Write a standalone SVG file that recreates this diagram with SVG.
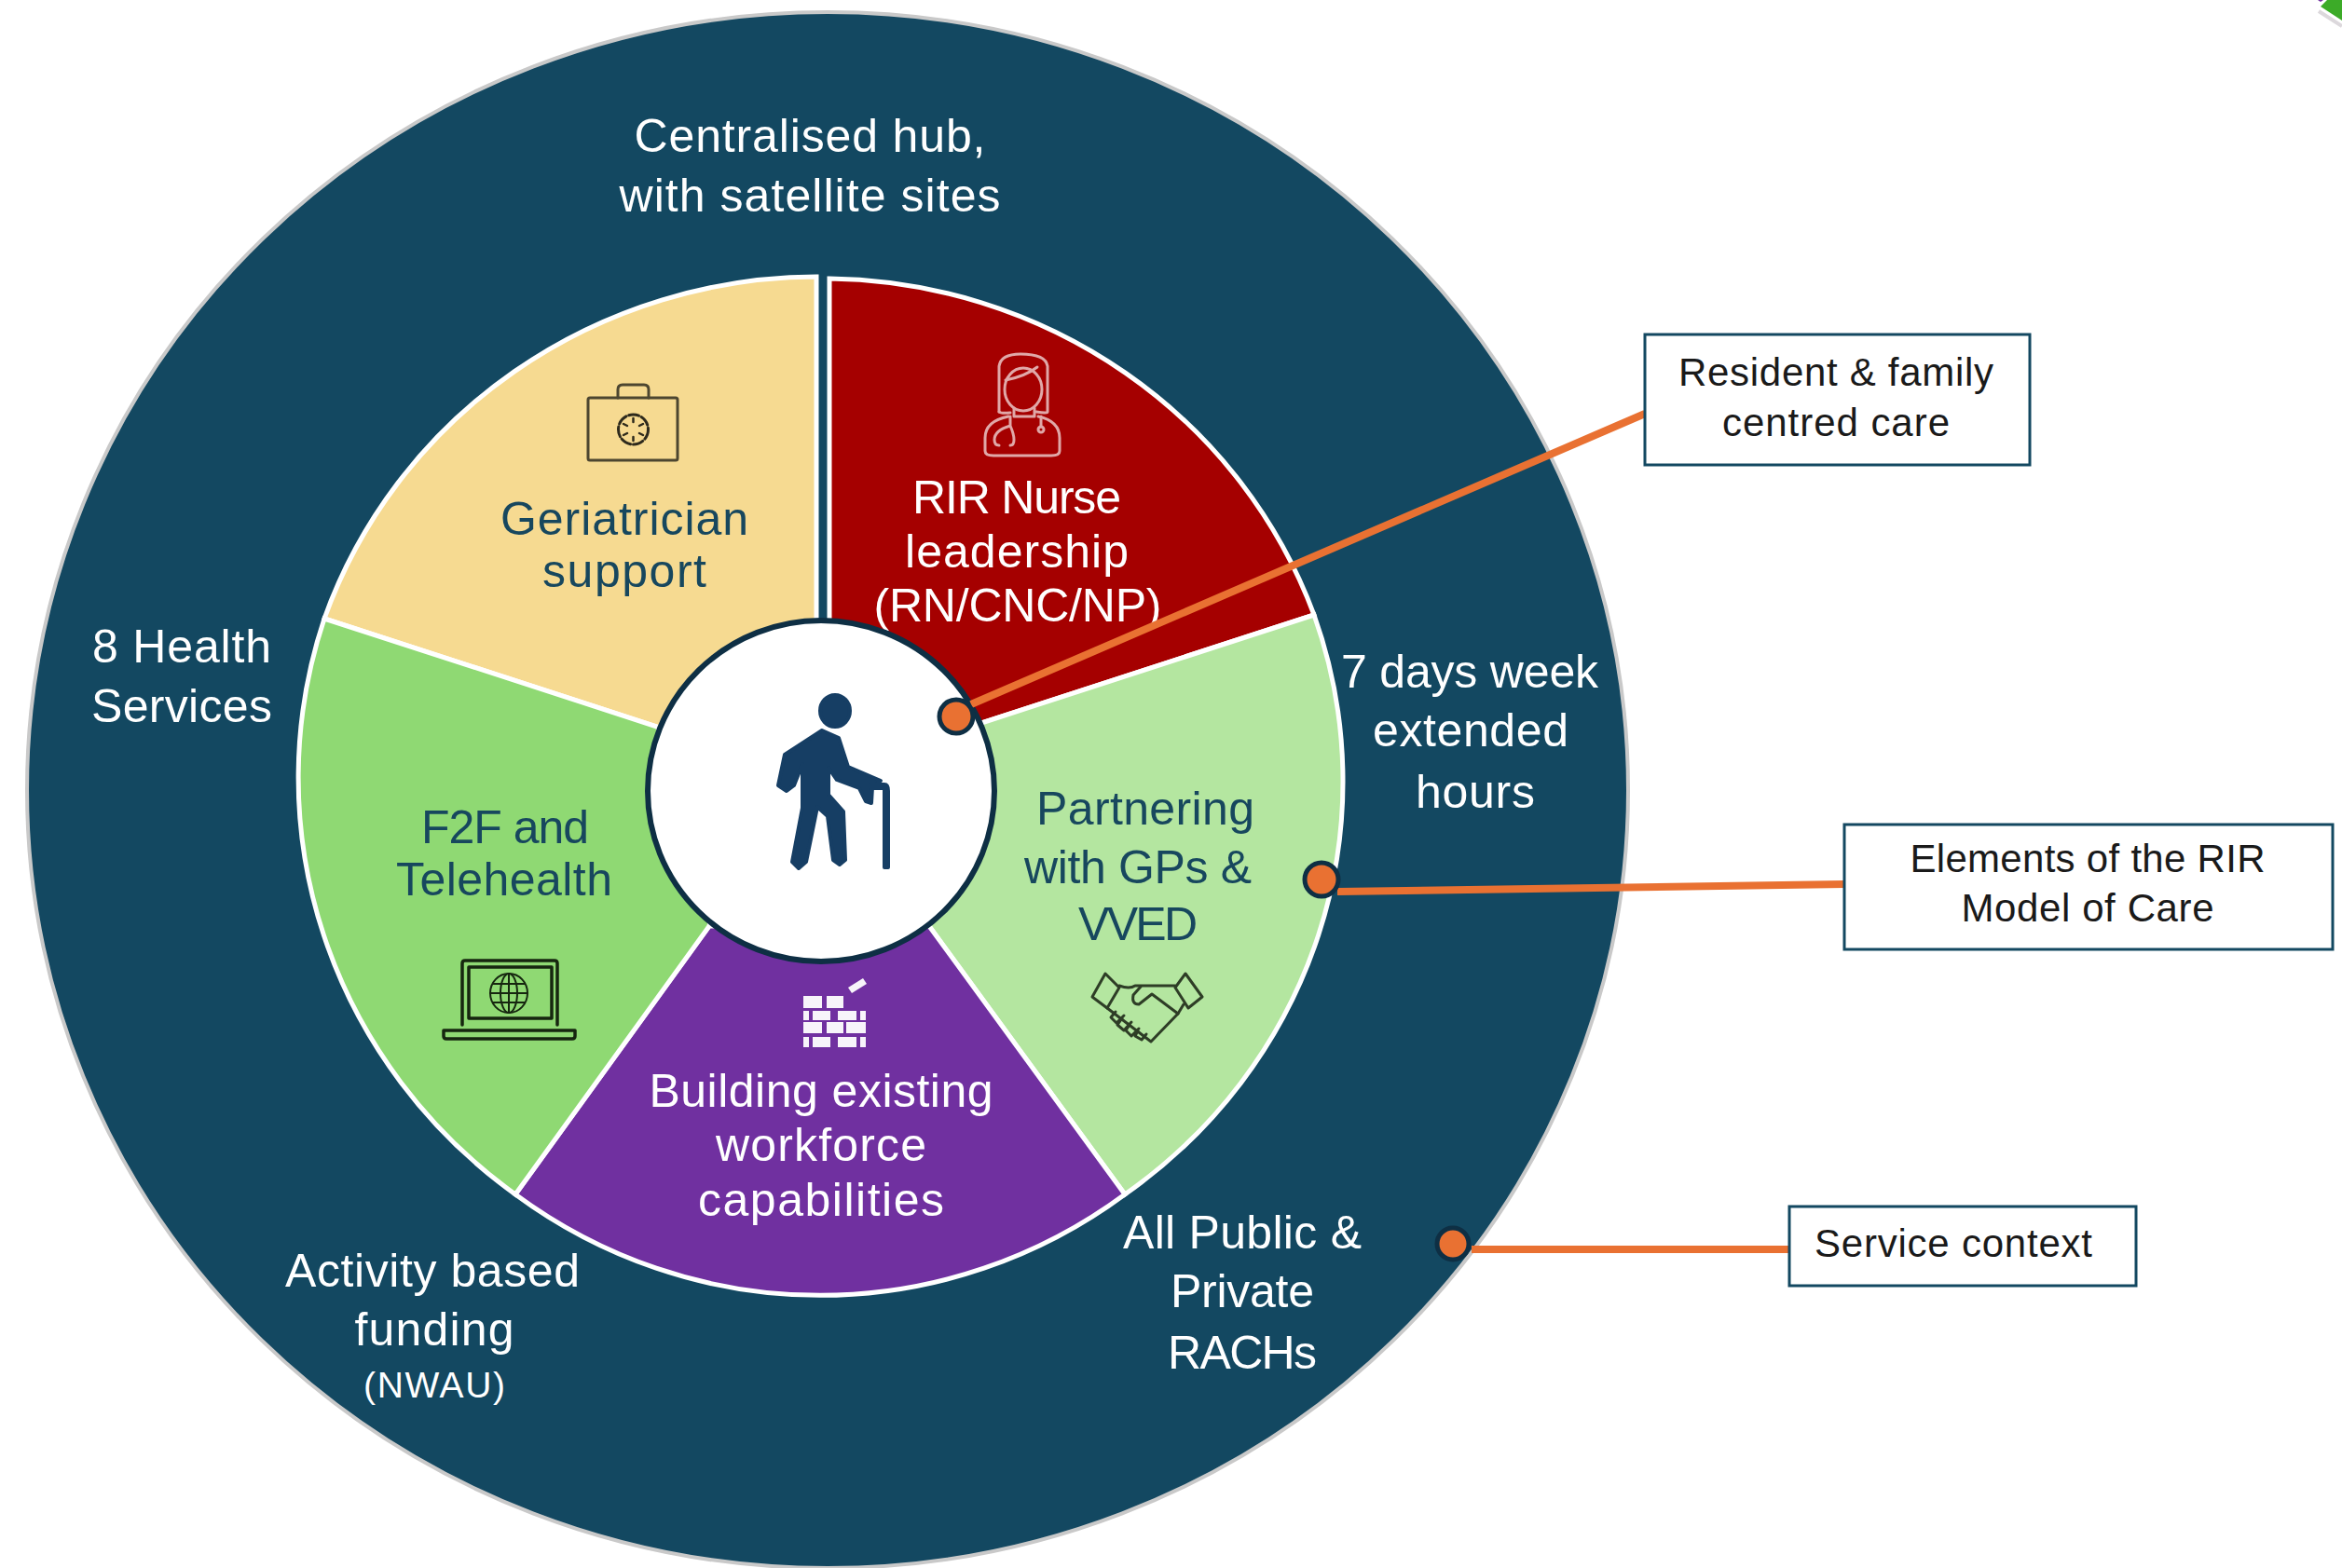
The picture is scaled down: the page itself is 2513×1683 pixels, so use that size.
<svg xmlns="http://www.w3.org/2000/svg" width="2513" height="1683" viewBox="0 0 2513 1683">
<style>
text{font-family:"Liberation Sans",Arial,sans-serif;font-size:50px;text-anchor:middle}
.w{fill:#fff}.d{fill:#17475e}.c{font-size:42px;fill:#1a1a1a}
.wedge{stroke:#fff;stroke-width:5;stroke-linejoin:miter}
.ic{fill:none;stroke-linejoin:round;stroke-linecap:round}
.conn{stroke:#e97132;stroke-width:8;fill:none}
.dot{fill:#e97132;stroke:#0e2f44;stroke-width:5}
.box{fill:#fff;stroke:#134861;stroke-width:3}
</style>
<rect width="2513" height="1683" fill="#fff"/>
<g id="service-context">
<ellipse cx="888" cy="848" rx="859" ry="835" fill="#134861" stroke="#c9c9c9" stroke-width="4"/>
<text class="w" x="869" y="163" textLength="377">Centralised hub,</text>
<text class="w" x="869" y="227" textLength="409">with satellite sites</text>
<text class="w" x="195" y="711" textLength="192">8 Health</text>
<text class="w" x="195" y="775" textLength="194">Services</text>
<text class="w" x="1577" y="738" textLength="276">7 days week</text>
<text class="w" x="1578" y="801" textLength="210">extended</text>
<text class="w" x="1583" y="867" textLength="128">hours</text>
<text class="w" x="1333" y="1340" textLength="256">All Public &amp;</text>
<text class="w" x="1333" y="1403" textLength="154">Private</text>
<text class="w" x="1333" y="1469" textLength="160">RACHs</text>
<text class="w" x="464" y="1381" textLength="316">Activity based</text>
<text class="w" x="466" y="1444" textLength="171">funding</text>
<text class="w" x="466" y="1500" textLength="152" style="font-size:39px">(NWAU)</text>
</g>
<g id="geriatrician">
<path class="wedge" fill="#f6da91" d="M876,840 L876,297 A561,547 0 0 0 348,664 L705,780 Z"/>
<g class="ic" stroke="#4d4630" stroke-width="3">
<rect x="631" y="427" width="96" height="67" rx="2"/>
<path d="M663,427 V418 Q663,413 668,413 H691 Q696,413 696,418 V427"/>
<circle cx="679.5" cy="461" r="16" stroke-dasharray="11 3" stroke="#2e2a1c"/>
<path d="M679.5,449 V453 M679.5,469 V473 M669,455 L673,457 M690,455 L686,457 M669,467 L673,465 M690,467 L686,465" stroke="#2e2a1c" stroke-width="2.5"/>
</g>
<text class="d" x="670" y="574" textLength="266">Geriatrician</text>
<text class="d" x="670" y="630" textLength="176">support</text>
</g>
<g id="nurse">
<path class="wedge" fill="#a50000" d="M890,800 L890,299 A561,547 0 0 1 1410,660 L1050,777 Z"/>
<g class="ic" stroke="#e0a8a8" stroke-width="3">
<path d="M1072,442 V393 Q1074,380 1095,380 Q1122,380 1124,393 V442 Q1124,444 1112,442"/>
<path d="M1072,442 Q1074,444 1084,443"/>
<ellipse cx="1098" cy="418" rx="20" ry="23"/>
<path d="M1079,408 Q1100,404 1113,394"/>
<path d="M1088,438 V447 H1110 V438"/>
<path d="M1082,447 Q1057,452 1057,470 V484 Q1057,489 1066,489 H1128 Q1137,489 1137,484 V470 Q1137,452 1114,447"/>
<path d="M1084,447 V457 Q1067,462 1067,472 Q1067,478 1072,478 M1084,457 Q1088,466 1088,472 Q1088,478 1084,478"/>
<path d="M1117,447 V458"/><circle cx="1117" cy="461" r="3"/>
</g>
<text class="w" x="1091" y="551" textLength="224">RIR Nurse</text>
<text class="w" x="1091" y="609" textLength="240">leadership</text>
<text class="w" x="1092" y="667" textLength="309">(RN/CNC/NP)</text>
</g>
<g id="partnering">
<path class="wedge" fill="#b4e6a0" d="M900,850 L1050,777 L1410,660 A565,547 0 0 1 1207,1282 L997,994 Z"/>
<g class="ic" stroke="#2e3d26" stroke-width="3">
<path d="M1186,1045 L1201,1060 L1188,1082 L1172,1070 Z"/>
<path d="M1272,1045 L1290,1070 L1275,1082 L1261,1060 Z"/>
<path d="M1201,1058 Q1212,1062 1218,1058 H1261"/>
<path d="M1188,1082 L1235,1118 L1264,1088 L1270,1078"/>
<path d="M1264,1088 L1236,1067 L1222,1078 Q1214,1078 1216,1068 L1224,1059"/>
<path d="M1197,1086 L1192,1092 L1198,1098 L1206,1090 M1204,1093 L1199,1100 L1206,1106 L1214,1097 M1212,1100 L1208,1106 L1214,1112 L1222,1104 M1221,1106 L1218,1112 L1225,1116 L1230,1110"/>
</g>
<text class="d" x="1229" y="885" textLength="234">Partnering</text>
<text class="d" x="1221" y="948" textLength="244">with GPs &amp;</text>
<text class="d" x="1221" y="1009" textLength="128">VVED</text>
</g>
<g id="workforce">
<path class="wedge" fill="#7030a0" d="M997,994 L1207,1282 A561,578 0 0 1 553,1282 L761,994 Z"/>
<g fill="#fff" opacity=".95">
<path d="M862,1069h20v13h-20zM887,1069h18v13h-18z"/>
<path d="M862,1085h6v10h-6zM872,1085h19v10h-19zM899,1085h20v10h-20zM923,1085h6v10h-6z"/>
<path d="M862,1097h20v12h-20zM887,1097h18v12h-18zM908,1097h21v12h-21z"/>
<path d="M862,1113h6v11h-6zM872,1113h19v11h-19zM899,1113h20v11h-20zM923,1113h6v11h-6z"/>
<path d="M910,1060 L926,1050 L930,1056 L914,1066 Z"/>
</g>
<text class="w" x="881" y="1188" textLength="369">Building existing</text>
<text class="w" x="881" y="1246" textLength="226">workforce</text>
<text class="w" x="881" y="1305" textLength="264">capabilities</text>
</g>
<g id="telehealth">
<path class="wedge" fill="#8fd973" d="M780,900 L761,994 L553,1282 A585,560 0 0 1 348,664 L705,780 Z"/>
<g class="ic" stroke="#16260f" stroke-width="3.5">
<path d="M496,1100 V1034 Q496,1031 499,1031 H595 Q598,1031 598,1034 V1100"/>
<rect x="503" y="1038" width="89" height="55"/>
<path d="M476,1106 H617 V1112 Q617,1115 614,1115 H479 Q476,1115 476,1112 Z"/>
<g stroke-width="2"><ellipse cx="546" cy="1066" rx="20" ry="21"/><ellipse cx="546" cy="1066" rx="9" ry="21"/><path d="M546,1045 V1087 M526,1066 H566 M529,1056 H563 M529,1076 H563"/></g>
</g>
<text class="d" x="542" y="905" textLength="180">F2F and</text>
<text class="d" x="541" y="961" textLength="232">Telehealth</text>
</g>
<g id="resident">
<ellipse cx="881" cy="849" rx="186" ry="183" fill="#fff" stroke="#0e2f44" stroke-width="6"/>
<g fill="#163e64" stroke="#163e64" stroke-width="4" stroke-linejoin="round">
<ellipse cx="896" cy="763" rx="16" ry="17"/>
<path d="M882,784 L900,792 L910,823 L945,838 L936,845 L935,862 L929,860 L922,846 L898,837 L889,824 V853 L905,871 L907,923 L901,928 L894,923 L888,876 L877,866 L865,925 L857,932 L850,925 L861,867 V820 L852,843 L844,849 L835,843 L842,810 Z"/>
<path d="M934,842 H949 Q953,842 953,849 V931 H949 V846 H934 Z"/>
</g>
</g>
<g id="connectors">
<path class="conn" d="M1042,756 L1765,444"/>
<path class="conn" d="M1435,957 L1979,949"/>
<path class="conn" d="M1579,1341 L1920,1341"/>
<circle class="dot" cx="1026" cy="769" r="18"/>
<circle class="dot" cx="1418" cy="944" r="18"/>
<circle class="dot" cx="1559" cy="1335" r="17"/>
</g>
<g id="label-resident">
<rect class="box" x="1765" y="359" width="413" height="140"/>
<text class="c" x="1970" y="414" textLength="338">Resident &amp; family</text>
<text class="c" x="1970" y="468" textLength="244">centred care</text>
</g>
<g id="label-elements">
<rect class="box" x="1979" y="885" width="524" height="134"/>
<text class="c" x="2240" y="936" textLength="381">Elements of the RIR</text>
<text class="c" x="2240" y="989" textLength="271">Model of Care</text>
</g>
<g id="label-service">
<rect class="box" x="1920" y="1295" width="372" height="85"/>
<text class="c" x="2096" y="1349" textLength="298">Service context</text>
</g>
<path d="M2488,12 L2513,28" stroke="#dcd8dc" stroke-width="4" fill="none"/>
<path d="M2490,7 L2497,0 H2513 V22 Z" fill="#3cab28"/>
<path d="M2487,0 H2493 L2490,2 Z" fill="#7030a0"/>
</svg>
